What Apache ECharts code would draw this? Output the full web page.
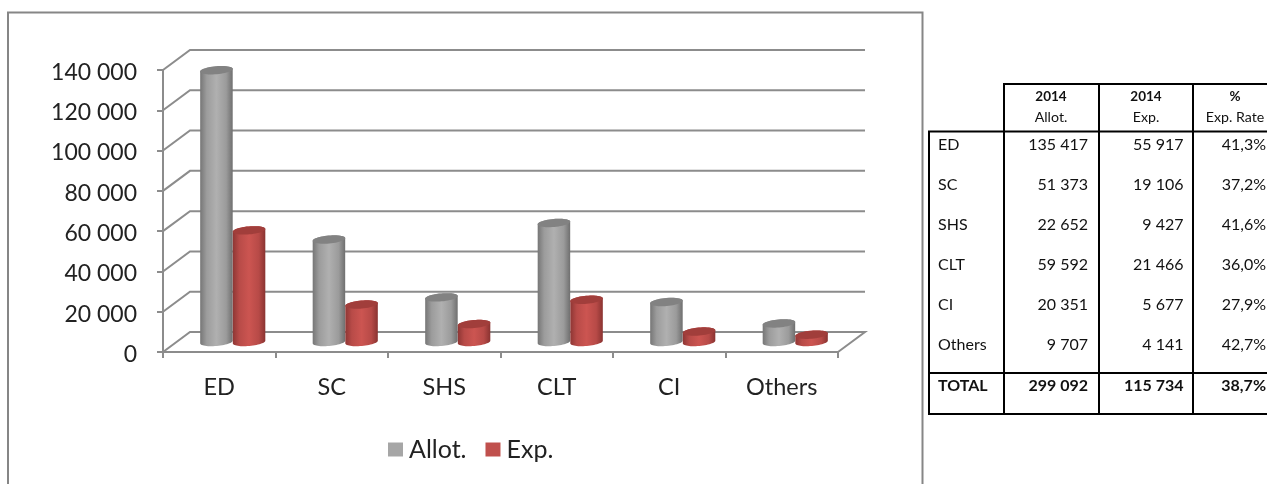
<!DOCTYPE html>
<html><head><meta charset="utf-8">
<style>html,body{margin:0;padding:0;background:#fff;overflow:hidden}#c{width:1267px;height:484px}</style>
<script src="https://cdn.jsdelivr.net/npm/echarts@6/dist/echarts.min.js"></script>
</head><body><div id="c"></div>
<script>
const categories = ['ED','SC','SHS','CLT','CI','Others'];
const allot = [135417,51373,22652,59592,20351,9707];
const exp = [55917,19106,9427,21466,5677,4141];
const rates = ['41,3%','37,2%','41,6%','36,0%','27,9%','42,7%'];
const totals = ['TOTAL','299 092','115 734','38,7%'];
const yTicks = [0,20000,40000,60000,80000,100000,120000,140000];
const tableHead1 = ['2014','2014','%'];
const tableHead2 = ['Allot.','Exp.','Exp. Rate'];

const FONT = 'Lato';
const GRID = '#8c8c8c';
const fmt = v => String(v).replace(/\B(?=(\d{3})+$)/g,' ');
const DX = 27, DY = -20;

function wallItem(params, api){
  const v = api.value(1);
  const p = api.coord([0, v]);
  const band = api.size([1,0])[0];
  const x0 = p[0]-band/2, y = p[1];
  const x1 = x0 + band*categories.length;
  const pts = [[x0,y],[x0+DX,y+DY],[x1+DX,y+DY]];
  if (v === 0) pts.push([x1,y]);
  return {type:'group',silent:true,children:[
    {type:'polyline',shape:{points:pts},style:{fill:'none',stroke:GRID,lineWidth:2}},
    {type:'text',x:x0-26,y:y+2.5,style:{text:fmt(v),x:0,y:0,align:'right',verticalAlign:'middle',font:'23px '+FONT,fill:'#222'}}
  ]};
}
function ellipsePts(cx,cy,rx,ry,from,to,n){
  const rot = -5*Math.PI/180, out=[];
  for(let i=0;i<=n;i++){
    const t = from+(to-from)*i/n;
    const ex = rx*Math.cos(t), ey = ry*Math.sin(t);
    out.push([cx+ex*Math.cos(rot)-ey*Math.sin(rot), cy+ex*Math.sin(rot)+ey*Math.cos(rot)]);
  }
  return out;
}
function cylinder(side, stops, topColor){
  return function(params, api){
    const base = api.coord([api.value(0),0]);
    const top = api.coord([api.value(0),api.value(1)]);
    const band = api.size([1,0])[0];
    const rx = band*0.145;
    const cx = base[0]+DX/2+side*rx;
    const yb = base[1]+DY/2, yt = top[1]+DY/2+1;
    const ry = 4;
    const bottomArc = ellipsePts(cx,yb,rx,ry,Math.PI,0,28);
    const topArc = ellipsePts(cx,yt,rx,ry,0,-Math.PI,28);
    return {type:'group',silent:true,children:[
      {type:'polygon',shape:{points:bottomArc.concat(topArc)},
       style:{fill:{type:'linear',x:0,y:0,x2:1,y2:0,colorStops:stops}}},
      {type:'polygon',shape:{points:ellipsePts(cx,yt,rx,ry,0,Math.PI*2,48)},style:{fill:topColor}}
    ]};
  };
}
const grayStops=[{offset:0,color:'#767676'},{offset:.2,color:'#9c9c9c'},{offset:.5,color:'#b0b0b0'},{offset:.8,color:'#9b9b9b'},{offset:1,color:'#6f6f6f'}];
const redStops=[{offset:0,color:'#8e3634'},{offset:.2,color:'#b84b48'},{offset:.5,color:'#cc5551'},{offset:.8,color:'#b74a47'},{offset:1,color:'#8a3331'}];

/* table */
const tbl=[];
const hline=(x1,x2,y)=>tbl.push({type:'line',shape:{x1,y1:y,x2,y2:y},style:{stroke:'#000',lineWidth:2}});
const vline=(x,y1,y2)=>tbl.push({type:'line',shape:{x1:x,y1,x2:x,y2},style:{stroke:'#000',lineWidth:2}});
hline(1003,1267,84);hline(928,1267,131.5);hline(928,1267,373);hline(928,1267,414);
vline(929,131,415);vline(1004,83,415);vline(1099,83,415);vline(1193,83,415);
const txt=(s,x,y,align,bold,size)=>tbl.push({type:'text',x,y,style:{text:s,x:0,y:0,align,verticalAlign:'middle',font:(bold?'bold ':'')+(size||16)+'px '+FONT,fill:'#111'}});
const colC=[1051,1146,1235], colR=[1088,1183.5,1266];
tableHead1.forEach((s,i)=>txt(s,colC[i],97,'center',true,13.5));
tableHead2.forEach((s,i)=>txt(s,colC[i],117,'center',false,14.2));
categories.forEach((c,i)=>{
  const y=145+40*i;
  txt(c,938,y,'left',false);
  txt(fmt(allot[i]),colR[0],y,'right',false);
  txt(fmt(exp[i]),colR[1],y,'right',false);
  txt(rates[i],colR[2],y,'right',false);
});
txt(totals[0],938,386,'left',true);
totals.slice(1).forEach((s,i)=>txt(s,colR[i],386,'right',true));

const chart = echarts.init(document.getElementById('c'),null,{renderer:'canvas'});
chart.setOption({
  animation:false,
  backgroundColor:'#fff',
  textStyle:{fontFamily:FONT},
  grid:{left:163,right:429,top:70,bottom:132,containLabel:false},
  legend:{data:['Allot.','Exp.'],left:383,top:432,icon:'rect',itemWidth:15,itemHeight:14,itemGap:19,
    textStyle:{fontFamily:FONT,fontSize:25,color:'#222',padding:[0,0,0,1]},selectedMode:false},
  xAxis:{type:'category',data:categories,
    axisLine:{lineStyle:{color:GRID,width:2}},
    axisTick:{show:true,length:6,alignWithLabel:false,lineStyle:{color:GRID,width:2}},
    axisLabel:{fontSize:23.5,fontFamily:FONT,color:'#222',margin:23},splitLine:{show:false}},
  yAxis:{type:'value',min:0,max:140000,interval:20000,
    axisLine:{show:true,lineStyle:{color:GRID,width:2}},
    axisTick:{show:true,length:6,lineStyle:{color:GRID,width:2}},
    axisLabel:{show:false},splitLine:{show:false}},
  series:[
    {type:'custom',name:'wall',renderItem:wallItem,data:yTicks.map(v=>[0,v]),encode:{x:0,y:1},clip:false,z:1,silent:true},
    {type:'custom',name:'Allot.',renderItem:cylinder(-1,grayStops,'#828282'),data:allot.map((v,i)=>[i,v]),encode:{x:0,y:1},clip:false,z:3,itemStyle:{color:'#a6a6a6'}},
    {type:'custom',name:'Exp.',renderItem:cylinder(1,redStops,'#a13e3b'),data:exp.map((v,i)=>[i,v]),encode:{x:0,y:1},clip:false,z:4,itemStyle:{color:'#c0504d'}}
  ],
  graphic:[
    {type:'rect',shape:{x:8,y:12.5,width:914.5,height:500},style:{fill:'none',stroke:'#868686',lineWidth:2},z:0,silent:true},
    {type:'group',children:tbl,silent:true}
  ]
});
</script></body></html>
